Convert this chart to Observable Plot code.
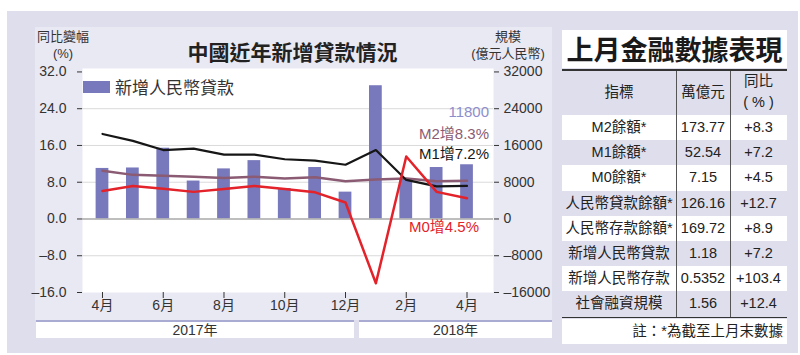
<!DOCTYPE html>
<html><head><meta charset="utf-8">
<script src="https://cdn.jsdelivr.net/npm/d3@7"></script>
<script src="https://cdn.jsdelivr.net/npm/@observablehq/plot@0.6"></script>
<style>
html,body{margin:0;padding:0;background:#fff;}
#page{position:relative;width:800px;height:355px;overflow:hidden;font-family:"Liberation Sans","Noto Sans CJK TC",sans-serif;color:#333;}
.abs{position:absolute;}
#outer{left:7px;top:11px;width:791px;height:342px;background:#dedeed;}
#inner{left:35px;top:27px;width:517px;height:293px;background:#e9e9f4;}
#chart{left:0;top:0;}
.yt{font-size:13px;text-align:center;line-height:17px;color:#333;}
.yearbox{top:320px;height:16px;background:#fff;border-top:2px solid #a9abd3;font-size:14px;line-height:17px;text-align:center;color:#333;}
</style>
</head><body>
<div id="page">
  <div id="outer" class="abs"></div>
  <div id="inner" class="abs"></div>
  <div id="chart" class="abs"></div>
  <div class="abs" style="left:150px;top:37px;width:285px;text-align:center;font-family:'Noto Sans CJK TC';font-weight:700;font-size:21px;line-height:28px;color:#222;">中國近年新增貸款情況</div>
  <div class="abs yt" style="left:32px;top:28px;width:62px;">同比變幅<br>(%)</div>
  <div class="abs yt" style="left:466px;top:28px;width:84px;">規模<br>(億元人民幣)</div>
  <div class="abs" style="left:83px;top:81px;width:27px;height:12px;background:#7878bc;"></div>
  <div class="abs" style="left:115px;top:75px;font-family:'Noto Sans CJK TC';font-size:17px;line-height:24px;color:#333;">新增人民幣貸款</div>
  <div id="years"></div>
  <div id="table"></div>
</div>
<script>
// ---- Chart data ----
const months = ["4月","5月","6月","7月","8月","9月","10月","11月","12月","1月","2月","3月","4月"];
const years = ["2017年","2018年"];
const newLoans = [11000, 11100, 15400, 8255, 10900, 12700, 6632, 11200, 5844, 29000, 8393, 11200, 11800]; // 億元
const m2 = [10.5, 9.6, 9.4, 9.2, 8.9, 9.2, 8.8, 9.1, 8.2, 8.6, 8.8, 8.2, 8.3];
const m1 = [18.5, 17.0, 15.0, 15.3, 14.0, 14.0, 13.0, 12.7, 11.8, 15.0, 8.5, 7.1, 7.2];
const m0 = [6.1, 7.2, 6.6, 5.9, 6.5, 7.2, 6.5, 5.8, 3.6, -14.0, 13.6, 5.9, 4.5];
const yTicks = [-16, -8, 0, 8, 16, 24, 32];
const xTickIdx = [0, 2, 4, 6, 8, 10, 12];
const gridTicks = [24, 16, 8, -8];

// ---- Table data ----
const tableTitle = "上月金融數據表現";
const tableHead = ["指標", "萬億元", "同比"];
const indicators = ["M2餘額*","M1餘額*","M0餘額*","人民幣貸款餘額*","人民幣存款餘額*","新增人民幣貸款","新增人民幣存款","社會融資規模"];
const amounts = ["173.77","52.54","7.15","126.16","169.72","1.18","0.5352","1.56"];
const yoy = ["+8.3","+7.2","+4.5","+12.7","+8.9","+7.2","+103.4","+12.4"];
const note = "註：*為截至上月末數據";

const rows = months.map((m, i) => ({i, month: m, loan: newLoans[i], m2: m2[i], m1: m1[i], m0: m0[i]}));
const last = rows.length - 1;
const dash = v => (v < 0 ? "–" : "") + Math.abs(v);
const fontFam = "'Liberation Sans','Noto Sans CJK TC',sans-serif";

const chart = Plot.plot({
  width: 560, height: 355,
  marginLeft: 82, marginRight: 67, marginTop: 68, marginBottom: 63,
  style: {background: "transparent", fontFamily: fontFam, fontSize: "14px", color: "#333", overflow: "visible"},
  x: {domain: [-0.658, 12.872], axis: null, label: null},
  y: {domain: [-16, 32.75], axis: null, label: null},
  marks: [
    Plot.frame({fill: "white", stroke: null}),
    Plot.ruleY(gridTicks, {stroke: "#dadada", strokeWidth: 1}),
    Plot.rect(rows, {x1: d => d.i - 0.21, x2: d => d.i + 0.21, y1: 0, y2: d => d.loan / 1000, fill: "#7878bc"}),
    Plot.ruleY([0], {stroke: "#a8a8a8", strokeWidth: 1.5}),
    Plot.line(rows, {x: "i", y: "m2", stroke: "#8a5b73", strokeWidth: 2.5}),
    Plot.line(rows, {x: "i", y: "m1", stroke: "#161616", strokeWidth: 2.2}),
    Plot.line(rows, {x: "i", y: "m0", stroke: "#e3222a", strokeWidth: 2.5}),
    Plot.axisY(yTicks, {anchor: "left", label: null, tickSize: 5, tickPadding: 11, stroke: "#333", tickFormat: d => (d < 0 ? "–" : "") + Math.abs(d).toFixed(1)}),
    Plot.axisY(yTicks, {anchor: "right", label: null, tickSize: 5, tickPadding: 5, stroke: "#333", tickFormat: d => dash(d * 1000)}),
    Plot.axisX(xTickIdx, {anchor: "bottom", label: null, tickSize: 6, tickPadding: 2, stroke: "#333", tickFormat: i => months[i]}),
    Plot.text([rows[last]], {x: "i", y: d => d.loan / 1000, text: d => String(d.loan), textAnchor: "end", dx: 22, dy: -53, fill: "#8e8ecc", fontSize: 15}),
    Plot.text([rows[last]], {x: "i", y: "m2", text: d => "M2增" + d.m2 + "%", textAnchor: "end", dx: 22, dy: -47, fill: "#8a5b73", fontSize: 15}),
    Plot.text([rows[last]], {x: "i", y: "m1", text: d => "M1增" + d.m1 + "%", textAnchor: "end", dx: 22, dy: -32, fill: "#161616", fontSize: 15}),
    Plot.text([rows[last]], {x: "i", y: "m0", text: d => "M0增" + d.m0 + "%", textAnchor: "end", dx: 12, dy: 29, fill: "#e3222a", fontSize: 15})
  ]
});
document.getElementById("chart").appendChild(chart);

// year boxes
const yb = document.getElementById("years");
[[36, 318], [359, 193]].forEach(([l, w], k) => {
  const d = document.createElement("div");
  d.className = "abs yearbox";
  d.style.left = l + "px"; d.style.width = w + "px";
  d.textContent = years[k];
  yb.appendChild(d);
});

// table
const tb = document.getElementById("table");
function add(html, style) {
  const d = document.createElement("div");
  d.className = "abs";
  d.style.cssText = style;
  d.innerHTML = html;
  tb.appendChild(d);
  return d;
}
const TL = 562, TW = 225, C1 = 676, C2 = 730, TR = TL + TW;
add(tableTitle, `left:${TL}px;top:30px;width:${TW}px;height:38px;background:#fff;text-align:center;font-family:'Noto Sans CJK TC';font-weight:700;font-size:27px;line-height:38px;color:#1a1a1a;`);
add("", `left:${TL}px;top:69px;width:${TW}px;height:2px;background:#333;`);
add(tableHead[0], `left:${TL}px;top:81px;width:${C1-TL}px;text-align:center;font-size:14.5px;line-height:22px;color:#222;`);
add(tableHead[1], `left:${C1}px;top:81px;width:${C2-C1}px;text-align:center;font-size:14.5px;line-height:22px;color:#222;`);
add(tableHead[2] + "<br>( % )", `left:${C2}px;top:71px;width:${TR-C2}px;text-align:center;font-size:14.5px;line-height:21px;color:#222;`);
const RH = 25.2, R0 = 115;
indicators.forEach((name, k) => {
  const top = R0 + k * RH;
  const bg = k % 2 === 0 ? "#fff" : "transparent";
  add("", `left:${TL}px;top:${top}px;width:${TW}px;height:${RH}px;background:${bg};`);
  const base = `top:${top}px;height:${RH}px;line-height:${RH}px;text-align:center;font-size:14.5px;color:#222;white-space:nowrap;`;
  add(name, `left:${TL}px;width:${C1-TL}px;` + base);
  add(amounts[k], `left:${C1}px;width:${C2-C1}px;` + base);
  add(yoy[k], `left:${C2}px;width:${TR-C2}px;` + base);
});
add("", `left:${C1}px;top:71px;width:1px;height:${R0 + indicators.length*RH - 71}px;background:#555;`);
add("", `left:${C2}px;top:71px;width:1px;height:${R0 + indicators.length*RH - 71}px;background:#555;`);
add("", `left:${TL}px;top:${R0 + indicators.length*RH}px;width:${TW}px;height:1.5px;background:#333;`);
add(note, `left:${TL}px;top:${R0 + indicators.length*RH + 2}px;width:${TW - 4}px;padding-right:4px;height:25px;line-height:25px;background:#fff;text-align:right;font-size:14.5px;color:#222;`);
</script>
</body></html>
